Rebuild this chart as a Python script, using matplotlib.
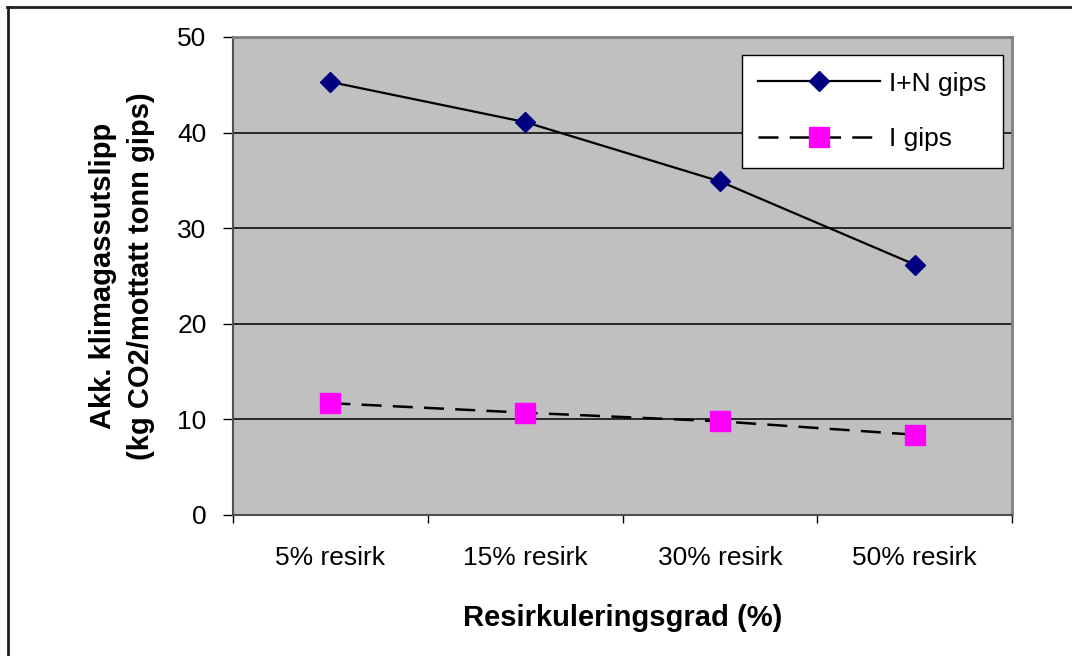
import matplotlib
matplotlib.use("Agg")
import matplotlib.pyplot as plt
from matplotlib.lines import Line2D

categories = ["5% resirk", "15% resirk", "30% resirk", "50% resirk"]
series_in = [45.3, 41.1, 34.9, 26.2]
series_i = [11.7, 10.7, 9.8, 8.4]
label_in = "I+N gips"
label_i = "I gips"
yticks = [0, 10, 20, 30, 40, 50]

plt.rcParams['font.family'] = ['Liberation Sans', 'DejaVu Sans']

fig = plt.figure(figsize=(10.72, 6.56), dpi=100)
ax = fig.add_axes([233/1072, 1-515/656, 779/1072, 478/656])
ax.set_facecolor('#C0C0C0')

x = list(range(len(categories)))
ax.plot(x, series_in, color='black', lw=1.6, marker='D', markersize=10.5,
        markerfacecolor='#000080', markeredgecolor='#000080', label=label_in, zorder=3)
ax.plot(x, series_i, color='black', lw=1.8, linestyle=(0, (8, 4.5)), marker='s', markersize=14,
        markerfacecolor='#FF00FF', markeredgecolor='#FF00FF', label=label_i, zorder=3)

ax.set_xlim(-0.5, len(categories) - 0.5)
ax.set_ylim(0, 50)
ax.set_yticks(yticks)
ax.yaxis.grid(True, color='black', lw=1.1)
ax.set_axisbelow(True)

ax.set_xticks(x)
ax.set_xticklabels(categories, fontsize=19)
ax.set_xticks([i - 0.5 for i in range(len(categories) + 1)], minor=True)
ax.tick_params(axis='x', which='major', length=0, pad=22)
ax.tick_params(axis='x', which='minor', length=6, width=1, color='black', direction='out')
ax.tick_params(axis='y', length=7, width=1, pad=12, labelsize=19)

for s in ['top', 'right']:
    ax.spines[s].set_color('#808080')
    ax.spines[s].set_linewidth(2)
for s in ['left', 'bottom']:
    ax.spines[s].set_color('#505050')
    ax.spines[s].set_linewidth(1.5)

ax.set_xlabel("Resirkuleringsgrad (%)", fontsize=21, fontweight='bold', labelpad=25)
ax.set_ylabel("Akk. klimagassutslipp\n(kg CO2/mottatt tonn gips)", fontsize=21,
              fontweight='bold', labelpad=16, linespacing=1.45)

leg = ax.legend(loc='upper right', bbox_to_anchor=(0.988, 0.962), borderaxespad=0,
                fontsize=19, handlelength=4.6, labelspacing=1.2, fancybox=False,
                framealpha=1, edgecolor='black', borderpad=0.62, handletextpad=0.35)
leg.get_frame().set_linewidth(1)

fig.add_artist(Line2D([7/1072, 1], [1-6.5/656, 1-6.5/656], transform=fig.transFigure, color='#202020', lw=2))
fig.add_artist(Line2D([7.5/1072, 7.5/1072], [0, 1-6.5/656], transform=fig.transFigure, color='#202020', lw=2))

fig.savefig("out.png", dpi=100)
